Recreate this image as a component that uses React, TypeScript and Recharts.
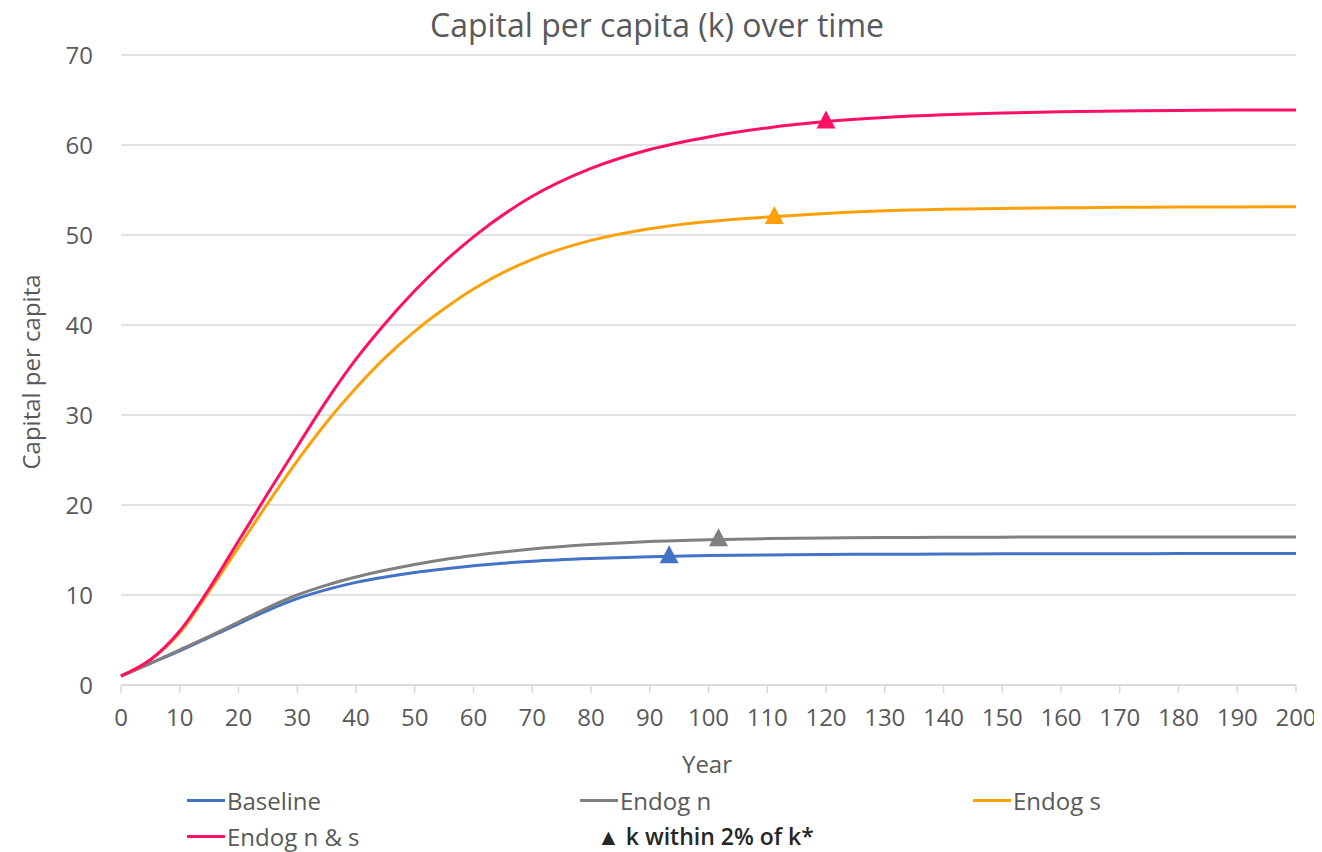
import React from 'react'
import { LineChart, Line, XAxis, YAxis, CartesianGrid, ReferenceDot } from 'recharts'

const years = [0, 5, 10, 15, 20, 25, 30, 35, 40, 45, 50, 55, 60, 70, 80, 90, 100, 110, 120, 130, 140, 150, 160, 170, 180, 190, 200]
const baseline = [1, 2.4, 3.8, 5.3, 6.8, 8.3, 9.6, 10.6, 11.4, 12.0, 12.5, 12.9, 13.25, 13.75, 14.05, 14.25, 14.38, 14.45, 14.5, 14.53, 14.55, 14.57, 14.58, 14.59, 14.6, 14.6, 14.6]
const endogN = [1, 2.4, 3.9, 5.4, 7.0, 8.6, 10.0, 11.1, 12.0, 12.75, 13.4, 13.95, 14.4, 15.1, 15.6, 15.95, 16.15, 16.27, 16.34, 16.38, 16.41, 16.43, 16.44, 16.45, 16.45, 16.45, 16.45]
const endogS = [1, 2.8, 5.8, 10.4, 15.3, 20.2, 24.9, 29.2, 33.0, 36.4, 39.3, 41.8, 44.0, 47.3, 49.4, 50.7, 51.5, 52.0, 52.4, 52.7, 52.85, 52.95, 53.02, 53.07, 53.1, 53.12, 53.15]
const endogNS = [1, 2.8, 6.0, 10.7, 16.0, 21.3, 26.5, 31.6, 36.2, 40.2, 43.8, 47.0, 49.8, 54.3, 57.4, 59.5, 60.9, 61.9, 62.6, 63.05, 63.35, 63.55, 63.7, 63.78, 63.84, 63.88, 63.9]

// year where k gets within 2% of its steady state
const markerYears = [93.3, 101.7, 111.2, 120]
const markerK = [14.3, 16.2, 52.0, 62.6]

const xTicks = [0, 10, 20, 30, 40, 50, 60, 70, 80, 90, 100, 110, 120, 130, 140, 150, 160, 170, 180, 190, 200]
const yTicks = [0, 10, 20, 30, 40, 50, 60, 70]

const series = [
  { key: 'baseline', name: 'Baseline', color: '#4472C4' },
  { key: 'endogN', name: 'Endog n', color: '#808080' },
  { key: 'endogS', name: 'Endog s', color: '#FFA00A' },
  { key: 'endogNS', name: 'Endog n & s', color: '#FF0F66' },
]

const data = years.map((year, i) => ({
  year,
  baseline: baseline[i],
  endogN: endogN[i],
  endogS: endogS[i],
  endogNS: endogNS[i],
}))

const FONT = '"Open Sans", sans-serif'
const TEXT = '#595959'

const Triangle = (color: string) => (props: any) => {
  const { cx, cy } = props
  if (cx == null || cy == null) return null
  return <polygon points={`${cx},${cy - 11} ${cx - 9.5},${cy + 7} ${cx + 9.5},${cy + 7}`} fill={color} />
}

const LegendItem = ({ x, y, color, label }: { x: number; y: number; color: string; label: string }) => (
  <div style={{ position: 'absolute', left: x, top: y - 17, display: 'flex', alignItems: 'center', height: 34 }}>
    <div style={{ width: 38, height: 3, background: color }} />
    <span style={{ marginLeft: 2, fontSize: 24, color: TEXT, fontFamily: FONT }}>{label}</span>
  </div>
)

export default function App() {
  return (
    <div style={{ position: 'relative', width: 1314, height: 844, fontFamily: FONT, background: '#fff' }}>
      <div style={{ position: 'absolute', left: 0, width: 1298, top: 17 - 22, textAlign: 'center', fontSize: 32, color: TEXT, lineHeight: '44px' }}>
        Capital per capita (k) over time
      </div>
      <LineChart width={1314} height={844} data={data} margin={{ top: 47, right: 26, left: 0, bottom: 67 }}>
        <CartesianGrid vertical={false} stroke="#d9d9d9" strokeWidth={1.5} />
        <XAxis
          dataKey="year"
          type="number"
          domain={[0, 200]}
          ticks={xTicks}
          interval={0}
          height={100}
          stroke="#d9d9d9"
          strokeWidth={1.5}
          tickSize={8}
          tickMargin={16}
          tick={{ fill: TEXT, fontSize: 24, fontFamily: FONT }}
        />
        <YAxis
          type="number"
          domain={[0, 70]}
          ticks={yTicks}
          interval={0}
          width={113}
          axisLine={false}
          tickLine={false}
          tickSize={0}
          tickMargin={28}
          tick={{ fill: TEXT, fontSize: 24, fontFamily: FONT }}
        />
        {series.map((s) => (
          <Line
            key={s.key}
            type="monotone"
            dataKey={s.key}
            name={s.name}
            stroke={s.color}
            strokeWidth={3}
            dot={false}
            activeDot={false}
            isAnimationActive={false}
          />
        ))}
        {series.map((s, i) => (
          <ReferenceDot key={`m-${s.key}`} x={markerYears[i]} y={markerK[i]} r={9} shape={Triangle(s.color)} />
        ))}
      </LineChart>
      <div
        style={{
          position: 'absolute',
          left: 22,
          top: 364,
          transform: 'translate(-50%, -50%) rotate(-90deg)',
          whiteSpace: 'nowrap',
          fontSize: 24,
          color: TEXT,
        }}
      >
        Capital per capita
      </div>
      <div style={{ position: 'absolute', left: 699, top: 755, transform: 'translate(-50%, -50%)', fontSize: 24, color: TEXT }}>
        Year
      </div>
      <LegendItem x={179} y={792} color={series[0].color} label={series[0].name} />
      <LegendItem x={572} y={792} color={series[1].color} label={series[1].name} />
      <LegendItem x={965} y={792} color={series[2].color} label={series[2].name} />
      <LegendItem x={179} y={828} color={series[3].color} label={series[3].name} />
      <div style={{ position: 'absolute', left: 589, top: 828 - 17, height: 34, display: 'flex', alignItems: 'center', fontSize: 23, color: '#262626', fontWeight: 600 }}>
        ▲ k within 2% of k*
      </div>
    </div>
  )
}
